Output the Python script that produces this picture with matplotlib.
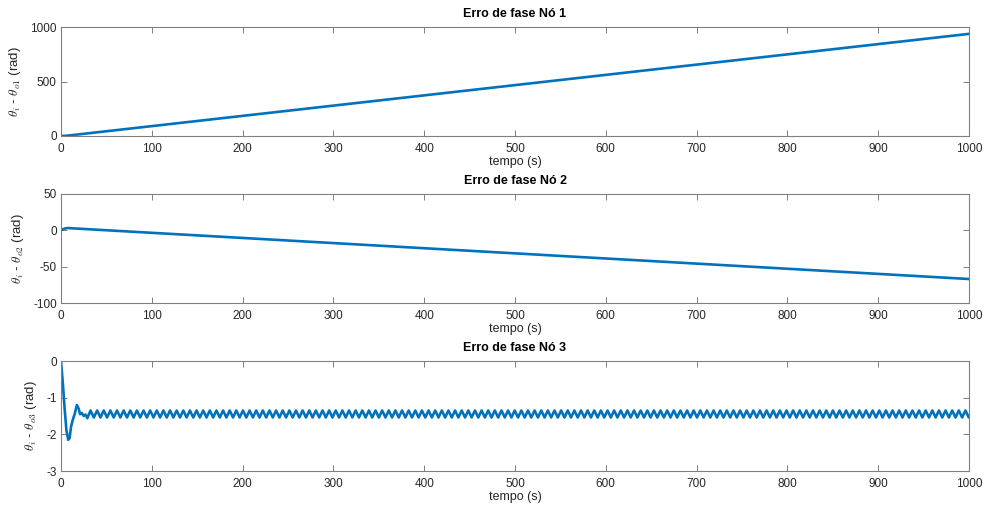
import numpy as np
import matplotlib.pyplot as plt

# values (MATLAB-style phase error plots)
titles = ["Erro de fase Nó 1", "Erro de fase Nó 2", "Erro de fase Nó 3"]
ylabels = [r"$\theta_i$ - $\theta_{o1}$ (rad)",
           r"$\theta_i$ - $\theta_{o2}$ (rad)",
           r"$\theta_i$ - $\theta_{o3}$ (rad)"]

t1 = [0, 5, 10, 1000]
e1 = [0, 2, 6, 937]

t2 = [0, 4, 8, 12, 1000]
e2 = [0, 2.5, 3.2, 2.8, -67]

t3_transient = [0, 2, 4, 6, 8, 9.5, 11, 13, 15, 17.5, 19.5, 21, 23, 25, 27, 29]
e3_transient = [0, -0.6, -1.3, -1.9, -2.15, -2.1, -1.8, -1.6, -1.45, -1.2,
                -1.3, -1.45, -1.42, -1.5, -1.46, -1.56]
steady_start = 32.5
steady_period = 7.3
steady_levels = [-1.35, -1.54]

xlims = [(0, 1000)] * 3
ylims = [(0, 1000), (-100, 50), (-3, 0)]
yticks = [[0, 500, 1000], [-100, -50, 0, 50], [-3, -2, -1, 0]]
xticks = list(range(0, 1001, 100))

half = steady_period / 2
t3_steady = np.arange(steady_start, 1000 + half, half)
e3_steady = np.resize(steady_levels, len(t3_steady))
t3 = np.concatenate([t3_transient, t3_steady])
e3 = np.concatenate([e3_transient, e3_steady])

series = [(t1, e1), (t2, e2), (t3, e3)]

plt.rcParams['font.family'] = ['Liberation Sans', 'DejaVu Sans']
plt.rcParams['mathtext.fontset'] = 'cm'
plt.rcParams['axes.unicode_minus'] = False

fig = plt.figure(figsize=(9.84, 5.12), dpi=100)
W, H = 984, 512
boxes = [(61, 27, 136), (61, 194, 303), (61, 361, 471)]
grey = "#262626"
axis_grey = "#808080"

for i, (left, top, bottom) in enumerate(boxes):
    ax = fig.add_axes([left / W, 1 - bottom / H, (969 - left) / W, (bottom - top) / H])
    x, y = series[i]
    ax.plot(x, y, color="#0072BD", linewidth=1.9)
    ax.set_xlim(*xlims[i])
    ax.set_ylim(*ylims[i])
    ax.set_xticks(xticks)
    ax.set_yticks(yticks[i])
    ax.tick_params(direction="in", top=True, right=True, length=4, width=0.7,
                   labelsize=8.5, labelcolor=grey, color=axis_grey, pad=3)
    ax.tick_params(axis="x", pad=5)
    for sp in ax.spines.values():
        sp.set_color(axis_grey)
        sp.set_linewidth(0.8)
    ax.set_title(titles[i], fontsize=9, fontweight="bold", color="black", pad=7)
    ax.set_xlabel("tempo (s)", fontsize=9, color=grey, labelpad=1)
    ax.set_ylabel(ylabels[i], fontsize=9.5, color=grey, labelpad=5)

fig.savefig("out.png", dpi=100)
